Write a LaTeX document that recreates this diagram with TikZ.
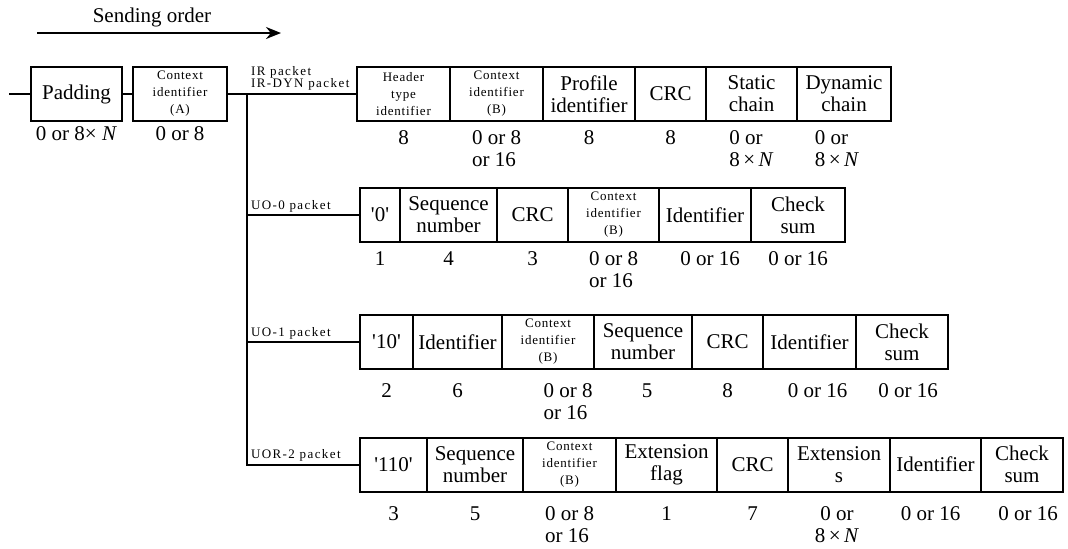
\documentclass[tikz,border=0pt]{standalone}
\usepackage{fontspec}
\setmainfont{Liberation Serif}
\newfontfamily\fldfam{Liberation Serif}
\newfontfamily\smallfam[LetterSpace=6]{Liberation Serif}
\newfontfamily\pktfam[LetterSpace=11]{Liberation Serif}
\newcommand\fldfont{\fldfam\fontsize{10.5}{11}\selectfont}
\newcommand\fldsmall{\smallfam\fontsize{6.5}{8.5}\selectfont}
\newcommand\pktlabel{\pktfam\fontsize{6.5}{6}\selectfont}
\newcommand\eightN{8\,×\,\textit{N}}
\newcommand\q[1]{\textquotesingle#1\textquotesingle}
\usetikzlibrary{positioning, arrows.meta}

\tikzset{
  fw/.style={minimum width=#1},
  field/.style={draw, line width=1pt, minimum height=27pt, inner sep=0pt,
    outer sep=0pt, align=center, font=\fldfont},
  small field/.style={field, font=\fldsmall},
  num/.style={anchor=north, inner sep=0pt, align=left, font=\fldfont},
  pkt/.style={anchor=base west, inner sep=0pt, align=left, font=\pktlabel},
}

\begin{document}
\begin{tikzpicture}[x=0.5pt, y=-0.5pt, line width=1pt, >={Stealth[length=7.5pt, width=6pt]}]
  \useasboundingbox (0,0) rectangle (1068,548);
  \node[anchor=base, font=\fldfont] (title) at (152,22.5) {Sending order};
  \coordinate (arrS) at (37,33);
  \coordinate (arrE) at (281,33);
  \draw[->] (arrS) -- (arrE);

  % common header
  \coordinate (in) at (9,94);
  \node[field, fw=45.5pt, anchor=west] (pad) at (31,94) {Padding};
  \node[small field, fw=47pt, anchor=west] (ctxA) at (133,94) {Context\\identifier\\(A)};
  \draw (in) -- (pad);
  \draw (pad) -- (ctxA);
  \node[num, align=center, below=2.5pt of pad] (padN) {0 or 8× \textit{N}};
  \node[num, below=2.5pt of ctxA] (ctxAN) {0 or 8};
  \coordinate (fork) at (247,94);

  % IR / IR-DYN
  \node[small field, fw=46.5pt, anchor=west] (ir1) at (357,94) {Header\\type\\identifier};
  \node[small field, fw=46.5pt, right=0pt of ir1] (ir2) {Context\\identifier\\(B)};
  \node[field, fw=46pt, right=0pt of ir2] (ir3) {Profile\\identifier};
  \node[field, fw=35.5pt, right=0pt of ir3] (ir4) {CRC};
  \node[field, fw=45.5pt, right=0pt of ir4] (ir5) {Static\\chain};
  \node[field, fw=47pt, right=0pt of ir5] (ir6) {Dynamic\\chain};
  \draw (ctxA) -- (ir1);
  \node[pkt, anchor=south west] (irL) at (250,91) {IR packet\\IR-DYN packet};
  \node[num, below=4.5pt of ir1] (ir1N) {8};
  \node[num, below=4.5pt of ir2] (ir2N) {0 or 8\\or 16};
  \node[num, below=4.5pt of ir3] (ir3N) {8};
  \node[num, below=4.5pt of ir4] (ir4N) {8};
  \node[num, below=4.5pt of ir5] (ir5N) {0 or\\\eightN};
  \node[num, below=4.5pt of ir6, xshift=-3.5pt] (ir6N) {0 or\\\eightN};

  % UO-0
  \node[field, fw=20pt, anchor=west] (ua1) at (360,215) {\q{0}};
  \node[field, fw=48.5pt, right=0pt of ua1] (ua2) {Sequence\\number};
  \node[field, fw=35.5pt, right=0pt of ua2] (ua3) {CRC};
  \node[small field, fw=45.5pt, right=0pt of ua3] (ua4) {Context\\identifier\\(B)};
  \node[field, fw=46pt, right=0pt of ua4] (ua5) {Identifier};
  \node[field, fw=47pt, right=0pt of ua5] (ua6) {Check\\sum};
  \draw (fork |- ua1.west) -- (ua1);
  \node[pkt] (uaL) at (250,209) {UO-0 packet};
  \node[num, below=4.5pt of ua1] (ua1N) {1};
  \node[num, below=4.5pt of ua2] (ua2N) {4};
  \node[num, below=4.5pt of ua3] (ua3N) {3};
  \node[num, below=4.5pt of ua4] (ua4N) {0 or 8\\or 16};
  \node[num, below=4.5pt of ua5, xshift=2.5pt] (ua5N) {0 or 16};
  \node[num, below=4.5pt of ua6] (ua6N) {0 or 16};

  % UO-1
  \node[field, fw=26.5pt, anchor=west] (ub1) at (360,342) {\q{10}};
  \node[field, fw=44.5pt, right=0pt of ub1] (ub2) {Identifier};
  \node[small field, fw=46pt, right=0pt of ub2] (ub3) {Context\\identifier\\(B)};
  \node[field, fw=49pt, right=0pt of ub3] (ub4) {Sequence\\number};
  \node[field, fw=35.5pt, right=0pt of ub4] (ub5) {CRC};
  \node[field, fw=46.5pt, right=0pt of ub5] (ub6) {Identifier};
  \node[field, fw=46pt, right=0pt of ub6] (ub7) {Check\\sum};
  \draw (fork |- ub1.west) -- (ub1);
  \node[pkt] (ubL) at (250,336) {UO-1 packet};
  \node[num, below=7pt of ub1] (ub1N) {2};
  \node[num, below=7pt of ub2] (ub2N) {6};
  \node[num, below=7pt of ub3, xshift=10pt] (ub3N) {0 or 8\\or 16};
  \node[num, below=7pt of ub4, xshift=2pt] (ub4N) {5};
  \node[num, below=7pt of ub5] (ub5N) {8};
  \node[num, below=7pt of ub6, xshift=4pt] (ub6N) {0 or 16};
  \node[num, below=7pt of ub7, xshift=3pt] (ub7N) {0 or 16};

  % UOR-2
  \node[field, fw=33.5pt, anchor=west] (uc1) at (360,464.5) {\q{110}};
  \node[field, fw=48pt, right=0pt of uc1] (uc2) {Sequence\\number};
  \node[small field, fw=46.5pt, right=0pt of uc2] (uc3) {Context\\identifier\\(B)};
  \node[field, fw=50.5pt, right=0pt of uc3] (uc4) {Extension\\flag};
  \node[field, fw=35.5pt, right=0pt of uc4] (uc5) {CRC};
  \node[field, fw=51pt, right=0pt of uc5] (uc6) {Extension\\s};
  \node[field, fw=45.5pt, right=0pt of uc6] (uc7) {Identifier};
  \node[field, fw=41pt, right=0pt of uc7] (uc8) {Check\\sum};
  \draw (fork) |- (uc1);
  \node[pkt] (ucL) at (250,458) {UOR-2 packet};
  \node[num, below=7pt of uc1] (uc1N) {3};
  \node[num, below=7pt of uc2] (uc2N) {5};
  \node[num, below=7pt of uc3] (uc3N) {0 or 8\\or 16};
  \node[num, below=7pt of uc4] (uc4N) {1};
  \node[num, below=7pt of uc5] (uc5N) {7};
  \node[num, align=center, below=7pt of uc6, xshift=-1pt] (uc6N) {0 or\\\eightN};
  \node[num, below=7pt of uc7, xshift=-2.5pt] (uc7N) {0 or 16};
  \node[num, below=7pt of uc8, xshift=3pt] (uc8N) {0 or 16};
\end{tikzpicture}
\end{document}
